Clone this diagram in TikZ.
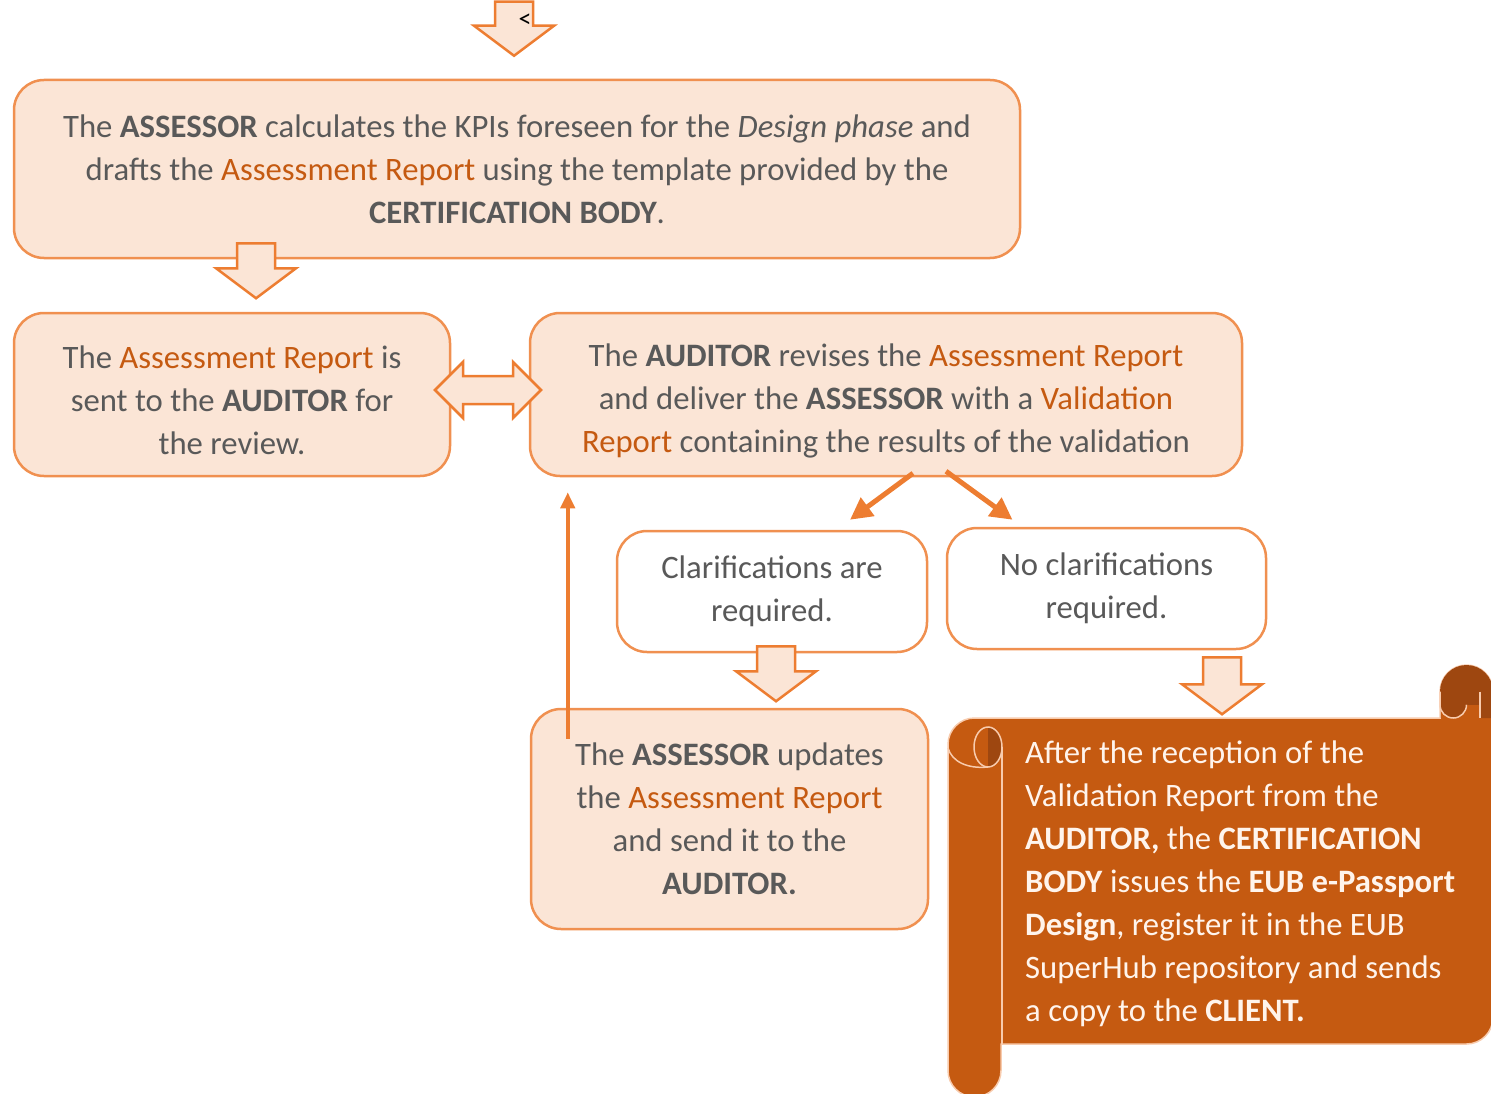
\documentclass[tikz,border=0pt]{standalone}
\usepackage{fontspec}
\setmainfont{Carlito}
\usepackage{xcolor}
\usepackage{tikz}
\usetikzlibrary{calc}
\usetikzlibrary{arrows.meta}
\usetikzlibrary{positioning}
\definecolor{peach}{HTML}{FBE5D6}
\definecolor{rust}{HTML}{C55A11}
\definecolor{accent}{HTML}{ED7D31}
\definecolor{textgray}{HTML}{595959}
\definecolor{curl}{HTML}{9E4710}
\definecolor{cream}{HTML}{FFF4EC}
\definecolor{rim}{HTML}{F8CBAD}
\tikzset{>=latex}
\tikzstyle{stepbox} = [rectangle, rounded corners=30pt, draw=accent!85!white, line width=2.5pt, fill=peach, align=center, text=textgray, inner sep=0pt]
\tikzstyle{choicebox} = [stepbox, fill=white]
\tikzstyle{blockarrow} = [draw=accent, line width=2.5pt, fill=peach, line join=miter]
\tikzstyle{linearrow} = [-{Triangle[length=22pt,width=22pt]}, draw=accent, line width=5pt]
\newcommand{\hl}[1]{\textcolor{rust}{#1}}
% block arrow pointing down: top centre, total length
\newcommand{\downblock}[2]{%
  \filldraw[blockarrow] ($(#1)+(-19,0)$) -- ++(38,0) -- ++(0,#2-30) -- ++(21,0) -- ++(-40,30) -- ++(-40,-30) -- ++(21,0) -- cycle;}

\begin{document}
\begin{tikzpicture}[x=1pt, y=-1pt, font=\fontsize{32.7}{43}\selectfont]
\useasboundingbox (0,0) rectangle (1491,1094);
% steps
\node [stepbox, minimum width=1006, minimum height=178] (kpi) at (517, 169) {The \textbf{ASSESSOR} calculates the KPIs foreseen for the \textit{Design phase} and\\ drafts the \hl{Assessment Report} using the template provided by the\\ \textbf{CERTIFICATION BODY}.};
\node [stepbox, minimum width=436, minimum height=163] (sent) at (232, 394.5) {\rule{0pt}{34pt}The \hl{Assessment Report} is\\ sent to the \textbf{AUDITOR} for\\ the review.};
\node [stepbox, minimum width=712, minimum height=163] (valid) at (886, 394.5) {\rule{0pt}{36pt}The \textbf{AUDITOR} revises the \hl{Assessment Report}\\ and deliver the \textbf{ASSESSOR} with a \hl{Validation}\\ \hl{Report} containing the results of the validation};
\node [choicebox, minimum width=310, minimum height=121] (clarif) at (772, 591.5) {Clarifications are\\ required.};
\node [choicebox, minimum width=319, minimum height=121] (noclarif) at (1106.5, 588.5) {No clarifications\\ required.};
\node [stepbox, minimum width=397, minimum height=220] (update) at (729.5, 819) {The \textbf{ASSESSOR} updates\\ the \hl{Assessment Report}\\ and send it to the\\ \textbf{AUDITOR.}};

% block arrows
\downblock{$(kpi.north)+(-3,-77)$}{54}
\node [font=\fontsize{26}{26}\selectfont, text=black, inner sep=0] (mark) at (525, 21) {<};
\downblock{$(kpi.south)+(-261,-16)$}{55}
\downblock{$(clarif.south)+(4,-7)$}{55}
\downblock{$(noclarif.south)+(115.5,7)$}{57}
\coordinate (mid) at ($(sent.east)!0.5!(valid.west)+(-2,-4.5)$);
\filldraw [blockarrow] ($(mid)+(-53,0)$) -- ++(28,-28) -- ++(0,14) -- ++(50,0) -- ++(0,-14) -- ++(28,28) -- ++(-28,28) -- ++(0,-14) -- ++(-50,0) -- ++(0,14) -- cycle;

% line arrows
\draw [linearrow] ($(valid.south)+(27,-4)$) -- ($(clarif.north)+(78,-10)$);
\draw [linearrow] ($(valid.south)+(60,-6)$) -- ($(noclarif.north)+(-94,-7)$);
\draw [-{Triangle[length=16pt,width=14pt]}, draw=accent, line width=4pt] ($(update.north west)+(38,31)$) -- ($(valid.south west)+(39,15)$);

% scroll (y axis points down, so angles run clockwise)
\filldraw [fill=rust, draw=rim, line width=1.5pt] (948,744.5) arc (180:270:26.5) -- (1440,718) -- (1440,691.5) arc (180:360:26.5) -- (1493,1017.5) arc (0:90:26.5) -- (1001,1044) -- (1001,1070.5) arc (0:180:26.5) -- cycle;
\fill [curl] (1440,718) -- (1440,691.5) arc (180:360:26.5) -- (1493,718) -- (1480,718) -- (1480,704.75) -- (1466.5,704.75) arc (0:180:13.25) -- cycle;
\draw [rim, line width=1.5pt] (1480,691.5) -- (1480,718);
\draw [rim, line width=1.5pt] (1466.5,704.75) arc (0:180:13.25) -- (1440,691.5);
\fill [curl] (988,727) arc (-90:90:14 and 20) -- cycle;
\draw [rim, line width=1.5pt] (988,747) ellipse (14 and 20);
\draw [rim, line width=1.5pt] (1002,747) -- (1002,1044);
\draw [rim, line width=1.5pt] (988,767) .. controls (968,769) and (952,762) .. (948,748);
\node [anchor=west, align=left, text=cream, inner sep=0] (scrolltext) at (1025, 884) {After the reception of the\\ Validation Report from the\\ \textbf{AUDITOR,} the \textbf{CERTIFICATION}\\ \textbf{BODY} issues the \textbf{EUB e-Passport}\\ \textbf{Design}, register it in the EUB\\ SuperHub repository and sends\\ a copy to the \textbf{CLIENT.}};
\end{tikzpicture}
\end{document}
